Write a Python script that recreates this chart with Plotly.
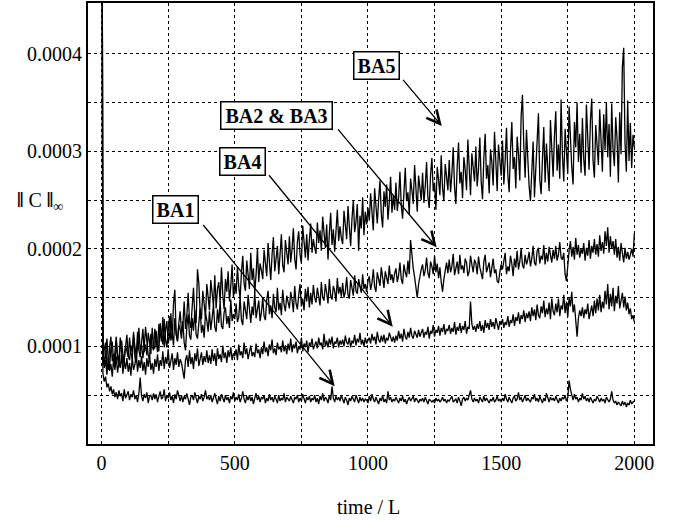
import plotly.graph_objects as go

# time axis (units of L), sampled every 5
time = list(range(0, 2001, 5))

# values in units of 1e-5 ; first value (t=0) is the off-scale start
ba1_e5 = [90,
 7.2, 6.4, 6.9, 5.8, 6.2, 5.4, 5.9, 5.1, 5.6, 4.8, 5.3, 4.6, 5.5, 4.9, 5.2, 4.4, 5.6, 4.7, 5.0, 5.4,
 4.5, 5.1, 4.8, 5.5, 4.6, 5.0, 4.3, 5.2, 6.8, 4.9, 4.4, 5.1, 4.7, 5.3, 4.2, 4.9, 5.0, 4.5, 5.2, 4.6,
 5.1, 4.3, 4.9, 5.4, 4.6, 4.8, 5.6, 4.4, 5.0, 4.7, 5.3, 4.5, 4.9, 4.2, 5.1, 4.6, 5.5, 4.8, 4.4, 5.0,
 4.3, 4.9, 4.6, 5.2, 4.4, 4.0, 4.8, 5.0, 4.5, 5.3, 4.7, 4.2, 4.9, 4.6, 5.1, 4.4, 4.8, 5.5, 4.6, 4.9,
 4.5, 5.0, 4.3, 4.8, 5.2, 4.6, 4.1, 4.9, 4.4, 5.1, 4.7, 4.3, 5.0, 4.5, 4.8, 4.2, 4.9, 4.6, 5.3, 4.4,
 4.8, 4.5, 5.1, 4.3, 4.7, 5.4, 4.6, 4.2, 4.9, 4.5, 5.0, 4.4, 4.8, 4.1, 4.7, 5.2, 4.5, 4.9, 4.3, 4.8,
 4.6, 5.0, 4.2, 4.7, 4.4, 5.1, 4.5, 4.8, 4.3, 4.9, 4.6, 4.2, 5.0, 4.4, 4.7, 4.5, 5.2, 4.3, 4.8, 4.6,
 4.4, 4.9, 4.5, 4.2, 4.8, 4.6, 5.0, 4.3, 4.7, 4.4, 5.1, 4.6, 4.2, 4.8, 4.5, 4.9, 4.3, 4.7, 4.5, 5.0,
 4.3, 4.7, 4.1, 4.9, 4.5, 5.2, 4.4, 4.8, 4.6, 4.2, 5.0, 4.5, 5.9, 4.7, 4.3, 4.9, 4.5, 4.8, 4.4, 5.0,
 4.6, 4.2, 4.8, 4.5, 4.0, 4.7, 4.4, 4.9, 4.6, 4.3, 5.0, 4.5, 4.2, 4.8, 4.4, 4.7, 4.3, 4.6, 4.5, 4.2,
 4.9, 4.4, 5.1, 4.6, 4.3, 4.8, 4.5, 4.1, 4.7, 4.4, 5.0, 4.3, 4.6, 4.2, 5.4, 4.5, 4.8, 4.3, 4.6, 4.4,
 4.8, 4.5, 4.2, 4.7, 4.4, 4.9, 4.3, 4.6, 4.1, 4.5, 4.8, 4.4, 4.6, 4.9, 4.3, 4.7, 4.5, 4.2, 4.6, 4.4,
 4.7, 4.3, 4.8, 4.5, 4.1, 4.6, 4.4, 4.3, 4.5, 4.2, 4.7, 4.4, 4.6, 4.3, 4.5, 4.8, 4.4, 4.6, 4.2, 4.5,
 4.4, 4.7, 4.9, 4.3, 4.5, 4.6, 4.2, 4.8, 4.4, 3.9, 4.6, 4.8, 4.4, 4.7, 4.5, 4.9, 5.5, 4.6, 4.3, 4.7,
 4.4, 4.6, 4.2, 4.8, 4.5, 4.3, 4.9, 4.4, 4.7, 4.5, 4.2, 4.6, 4.4, 4.8, 4.3, 4.5, 4.9, 4.4, 4.6, 4.3,
 4.7, 4.4, 5.1, 4.6, 4.3, 4.8, 4.5, 4.2, 4.7, 4.9, 4.4, 4.6, 5.3, 4.5, 4.8, 4.3, 4.6, 5.0, 4.4, 4.7,
 4.5, 4.3, 4.8, 4.6, 5.1, 4.4, 4.7, 4.3, 4.9, 4.5, 4.2, 4.7, 4.4, 5.2, 4.6, 4.3, 4.8, 4.5, 4.7, 4.4,
 4.9, 4.5, 4.2, 4.7, 4.4, 4.8, 4.6, 5.0, 4.4, 4.7, 6.5, 5.6, 4.9, 4.5, 5.1, 4.6, 4.8, 4.3, 4.7, 4.5,
 5.2, 4.6, 4.9, 4.4, 4.7, 4.3, 4.8, 4.5, 4.2, 4.6, 4.4, 4.9, 4.5, 4.3, 4.7, 4.4, 4.6, 4.2, 4.8, 4.5,
 4.3, 4.6, 5.4, 4.5, 4.2, 4.4, 4.0, 4.3, 4.1, 3.9, 4.4, 4.0, 4.3, 3.8, 4.2, 4.0, 4.5, 4.1, 4.3, 4.4]

ba4_e5 = [90,
 9.4, 7.8, 8.6, 7.1, 8.9, 7.5, 8.2, 6.9, 8.7, 7.6, 9.0, 7.3, 8.4, 7.8, 9.2, 7.2, 8.5, 7.7, 8.8, 7.4,
 8.3, 7.0, 8.9, 7.6, 8.1, 9.3, 7.4, 8.6, 7.8, 9.0, 7.5, 8.4, 7.1, 8.8, 7.9, 9.1, 7.6, 8.3, 7.2, 8.7,
 7.9, 9.2, 7.5, 8.6, 8.0, 9.5, 7.7, 8.9, 8.2, 9.7, 7.8, 8.5, 9.3, 7.6, 8.8, 8.1, 9.4, 7.9, 8.7, 8.3,
 7.2, 6.7, 8.6, 9.1, 7.9, 9.6, 8.2, 8.9, 7.7, 9.3, 8.5, 9.8, 8.0, 8.7, 9.4, 8.1, 9.0, 8.4, 9.6, 8.3,
 9.1, 8.2, 9.7, 8.5, 9.3, 8.0, 9.8, 8.7, 9.2, 8.4, 10.1, 8.8, 9.4, 8.3, 9.6, 8.9, 9.9, 8.6, 9.3, 9.0,
 9.7, 8.6, 10.2, 9.1, 9.5, 8.8, 10.4, 9.2, 9.8, 8.7, 9.6, 10.1, 9.0, 9.4, 8.9, 10.3, 9.3, 9.7, 8.8, 9.9,
 9.2, 10.5, 9.4, 9.9, 9.0, 10.2, 9.6, 10.7, 9.3, 9.8, 9.1, 10.4, 9.7, 10.0, 9.4, 10.6, 9.5, 10.1, 9.2, 10.3,
 9.6, 10.8, 9.4, 10.2, 9.8, 10.5, 9.3, 10.0, 9.7, 10.9, 9.5, 10.3, 9.9, 10.6, 9.4, 10.4, 10.0, 10.8, 9.7, 10.2,
 10.5, 9.8, 10.9, 10.1, 10.4, 9.7, 11.3, 10.0, 10.6, 9.9, 10.8, 10.2, 11.0, 9.8, 10.5, 10.3, 10.9, 9.9, 10.6, 10.2,
 10.7, 10.0, 11.1, 10.4, 10.2, 10.9, 9.9, 10.6, 10.3, 11.2, 10.1, 10.8, 10.4, 11.4, 10.2, 10.7, 10.0, 10.9, 10.3, 10.6,
 10.9, 10.3, 11.3, 10.6, 11.0, 10.2, 11.5, 10.7, 10.4, 11.1, 10.5, 11.2, 10.3, 10.9, 10.6, 11.4, 10.8, 10.5, 11.0, 10.4,
 11.1, 10.6, 11.6, 10.8, 11.3, 10.5, 11.8, 11.0, 10.7, 11.5, 10.9, 11.9, 11.1, 10.8, 11.6, 11.2, 10.9, 11.7, 11.0, 11.4,
 11.8, 10.9, 11.5, 11.2, 12.0, 10.8, 11.6, 11.3, 12.2, 11.0, 11.7, 11.4, 12.1, 11.1, 11.9, 11.5, 12.3, 11.2, 11.8, 11.6,
 12.2, 11.3, 11.9, 11.5, 12.5, 11.2, 12.0, 11.6, 12.4, 11.4, 12.1, 11.7, 12.6, 11.3, 12.0, 11.8, 14.6, 12.3, 11.7, 12.1,
 11.5, 12.3, 11.8, 12.6, 11.6, 12.2, 11.4, 12.7, 11.9, 12.4, 11.7, 12.8, 12.0, 12.5, 11.8, 12.9, 12.1, 11.7, 12.6, 12.2,
 12.8, 11.9, 12.5, 12.2, 13.1, 12.0, 12.7, 12.4, 13.3, 12.1, 13.0, 12.6, 13.5, 12.3, 13.2, 12.8, 13.7, 12.5, 13.4, 12.9,
 13.6, 12.6, 14.0, 13.1, 13.8, 12.7, 14.3, 13.2, 12.9, 14.1, 13.4, 14.7, 13.0, 13.9, 13.3, 14.5, 12.8, 14.9, 13.6, 13.2,
 14.4, 13.5, 14.9, 13.1, 14.2, 13.8, 15.3, 13.4, 14.6, 13.0, 15.0, 14.1, 15.6, 13.5, 14.3, 12.4, 11.0, 12.9, 13.7, 13.1,
 14.0, 12.9, 13.8, 13.3, 14.4, 12.8, 13.6, 14.2, 13.1, 14.7, 13.4, 14.9, 13.7, 15.3, 13.5, 14.6, 13.9, 15.7, 14.3, 16.4,
 13.8, 15.4, 14.1, 16.0, 13.6, 15.2, 14.4, 16.2, 13.9, 14.8, 15.5, 14.0, 15.1, 13.7, 14.5, 13.3, 13.9, 12.8, 13.2, 12.5]

ba23_e5 = [90,
 10.3, 8.2, 9.0, 10.8, 8.6, 7.9, 9.8, 10.5, 8.4, 9.4, 11.0, 8.8, 8.1, 9.9, 10.6, 9.2, 8.5, 10.1, 9.6, 8.9,
 10.9, 9.3, 8.7, 11.2, 10.0, 9.0, 11.5, 9.6, 8.9, 10.7, 11.8, 9.4, 10.2, 9.1, 11.4, 10.5, 9.2, 11.9, 10.1, 9.8,
 11.6, 10.3, 9.5, 12.4, 11.0, 10.2, 12.8, 10.7, 9.9, 11.9, 13.1, 10.6, 11.4, 10.1, 12.9, 11.3, 10.5, 12.2, 11.7, 10.8,
 12.6, 10.4, 9.6, 12.0, 13.3, 11.1, 10.7, 12.9, 11.6, 13.7, 11.2, 10.8, 12.5, 13.9, 11.4, 12.2, 10.9, 13.4, 12.7, 11.5,
 13.6, 11.7, 12.9, 14.3, 12.0, 11.5, 13.8, 12.4, 14.6, 12.1, 11.8, 13.5, 14.0, 12.3, 13.1, 11.9, 14.8, 12.6, 13.3, 12.8,
 14.4, 12.5, 13.0, 15.1, 12.7, 12.2, 14.6, 13.4, 12.8, 15.3, 13.6, 12.4, 14.1, 13.2, 15.6, 12.9, 13.8, 14.7, 12.6, 13.5,
 15.0, 13.1, 12.7, 14.8, 15.7, 13.3, 14.2, 12.9, 15.4, 14.0, 13.5, 16.0, 13.7, 14.5, 13.2, 15.8, 14.3, 13.6, 15.2, 14.6,
 13.9, 15.6, 14.8, 13.5, 16.2, 14.4, 13.8, 15.3, 16.4, 14.1, 14.9, 13.7, 15.9, 14.6, 16.1, 14.0, 15.5, 14.3, 16.3, 15.0,
 14.5, 16.0, 15.3, 14.2, 16.6, 15.0, 14.7, 16.4, 15.5, 14.4, 16.9, 15.2, 14.8, 16.2, 15.7, 14.6, 17.0, 15.4, 16.1, 15.1,
 16.5, 15.0, 15.6, 17.1, 15.3, 14.9, 16.8, 16.0, 15.2, 17.3, 15.7, 15.4, 16.9, 16.2, 15.5, 17.4, 15.9, 16.4, 15.6, 16.7,
 17.2, 15.8, 16.5, 17.9, 16.1, 15.6, 17.6, 16.9, 16.2, 18.1, 16.7, 16.0, 17.7, 17.0, 16.4, 18.3, 16.8, 17.4, 16.5, 17.5,
 18.0, 16.6, 17.3, 18.6, 16.9, 16.4, 18.4, 17.6, 17.1, 18.8, 17.4, 20.9, 19.2, 18.0, 17.1, 16.0, 15.0, 16.4, 17.3, 17.9,
 18.4, 17.2, 17.8, 19.1, 17.5, 17.0, 18.7, 18.2, 17.4, 19.3, 17.6, 18.5, 17.0, 18.1, 16.6, 15.6, 16.9, 17.8, 18.6, 17.5,
 18.9, 17.6, 18.2, 19.5, 17.3, 18.0, 18.7, 17.4, 19.4, 17.9, 18.3, 17.5, 19.0, 18.6, 17.2, 17.7, 19.3, 18.4, 17.6, 18.9,
 18.5, 17.4, 19.2, 18.1, 17.3, 16.9, 18.7, 19.4, 17.6, 18.0, 18.6, 17.1, 18.2, 19.0, 17.5, 17.9, 16.7, 16.5, 17.6, 18.4,
 17.9, 18.8, 19.6, 17.4, 18.2, 17.7, 19.3, 18.5, 17.2, 19.0, 18.1, 19.8, 17.9, 18.7, 20.0, 18.3, 18.0, 19.4, 18.4, 18.9,
 19.7, 18.2, 19.0, 20.3, 18.6, 18.3, 19.8, 20.1, 18.5, 19.3, 18.9, 20.4, 18.4, 19.6, 18.7, 20.2, 19.1, 18.6, 19.9, 19.0,
 20.3, 18.8, 19.4, 20.7, 19.1, 18.9, 19.6, 17.4, 16.7, 18.5, 19.8, 20.8, 19.2, 20.2, 18.9, 21.1, 19.4, 20.4, 19.1, 20.0,
 19.5, 20.6, 18.8, 20.1, 19.3, 20.9, 19.0, 20.3, 19.6, 21.0, 19.4, 20.5, 19.2, 21.4, 19.8, 20.7, 19.5, 21.8, 20.3, 22.2,
 19.6, 21.3, 20.0, 20.8, 19.4, 21.0, 19.1, 20.2, 18.8, 20.6, 19.3, 18.6, 20.1, 19.0, 19.7, 18.9, 19.4, 20.0, 19.2, 21.6]

ba5_e5 = [90,
 8.1, 9.7, 10.4, 8.0, 7.6, 9.9, 11.0, 8.5, 9.2, 7.8, 10.6, 9.1, 8.4, 10.9, 9.6, 8.2, 8.8, 10.3, 11.2, 9.0,
 8.6, 10.1, 9.4, 11.5, 8.9, 8.3, 10.8, 11.9, 9.5, 10.2, 8.8, 9.9, 12.0, 10.4, 9.1, 8.7, 11.3, 10.0, 9.6, 11.8,
 10.2, 9.4, 12.3, 11.1, 10.5, 13.0, 9.9, 11.7, 12.6, 10.3, 11.0, 13.4, 10.8, 14.4, 15.8, 11.2, 10.6, 12.4, 13.6, 11.5,
 12.1, 14.6, 11.8, 13.2, 15.5, 12.6, 11.9, 14.0, 16.0, 13.1, 12.4, 17.9, 16.5, 13.6, 12.8, 15.7, 14.2, 13.0, 16.4, 14.8,
 13.7, 16.8, 15.1, 14.2, 17.3, 13.9, 15.9, 16.6, 14.5, 18.1, 15.3, 13.8, 16.9, 15.6, 17.7, 14.6, 16.2, 18.4, 15.0, 16.5,
 15.4, 18.2, 16.1, 14.9, 17.6, 19.3, 16.4, 15.7, 18.8, 17.1, 15.9, 19.6, 16.8, 18.0, 15.5, 17.4, 20.0, 16.6, 18.5, 17.8,
 16.9, 19.9, 18.1, 17.2, 20.6, 18.7, 16.8, 19.4, 21.2, 17.7, 18.9, 20.3, 17.4, 19.1, 21.5, 18.3, 17.6, 20.9, 19.6, 18.4,
 21.3, 18.6, 20.0, 22.1, 19.0, 17.9, 20.7, 21.8, 19.4, 18.5, 22.4, 20.2, 19.1, 21.5, 18.8, 20.9, 22.6, 19.6, 21.0, 20.1,
 19.5, 22.7, 20.6, 21.9, 19.8, 23.3, 21.2, 20.1, 22.5, 18.9, 21.6, 23.7, 20.4, 22.0, 19.7, 21.4, 24.0, 20.8, 22.3, 21.1,
 20.5, 23.9, 22.2, 21.0, 24.4, 22.6, 20.3, 23.1, 25.0, 21.7, 22.8, 24.6, 19.8, 23.4, 22.1, 25.3, 21.4, 23.8, 22.5, 24.2,
 22.9, 25.7, 23.3, 21.9, 26.2, 24.5, 22.6, 25.1, 27.0, 23.6, 22.2, 25.9, 24.3, 26.6, 23.0, 24.8, 27.4, 23.7, 25.5, 24.0,
 26.8, 23.9, 25.2, 27.9, 24.4, 23.1, 26.5, 28.3, 24.9, 25.8, 23.5, 27.2, 26.0, 24.6, 28.6, 25.4, 23.8, 27.5, 26.3, 25.0,
 27.8, 24.7, 26.4, 28.9, 25.3, 24.2, 27.6, 29.3, 25.9, 26.8, 24.0, 28.4, 27.1, 25.5, 29.6, 26.2, 24.9, 28.7, 27.4, 26.0,
 29.1, 25.8, 27.7, 30.4, 26.3, 24.6, 28.5, 30.9, 26.7, 27.9, 25.2, 29.4, 28.1, 26.0, 31.2, 27.3, 25.5, 29.8, 28.3, 26.9,
 30.5, 26.4, 28.2, 31.4, 26.9, 25.1, 29.3, 31.8, 27.2, 28.6, 25.7, 30.2, 28.9, 26.5, 32.0, 27.8, 25.9, 30.7, 29.1, 27.5,
 31.1, 26.6, 29.0, 32.4, 27.6, 25.8, 30.1, 33.0, 28.2, 29.4, 26.2, 31.5, 29.7, 27.0, 33.6, 35.8, 30.6, 27.3, 32.2, 28.8,
 26.4, 24.9, 28.7, 31.0, 25.3, 27.9, 30.3, 33.9, 27.1, 25.6, 29.2, 32.5, 26.8, 30.8, 28.3, 25.9, 33.2, 29.5, 27.4, 31.6,
 34.1, 28.0, 30.7, 27.2, 35.3, 29.6, 26.9, 32.3, 30.0, 27.7, 34.6, 31.1, 28.4, 26.6, 33.0, 30.4, 35.0, 28.9, 31.8, 27.8,
 33.4, 29.2, 27.5, 34.8, 30.6, 28.1, 33.1, 35.4, 29.0, 27.3, 32.7, 30.9, 28.6, 34.3, 31.5, 27.9, 33.8, 30.1, 35.0, 29.4,
 32.8, 27.4, 34.9, 30.2, 28.5, 33.5, 31.3, 26.8, 34.0, 29.7, 38.6, 40.6, 30.8, 27.9, 35.2, 29.0, 32.9, 28.3, 31.7, 30.4]

series_names = ["BA1", "BA4", "BA2 & BA3", "BA5"]
series_e5 = [ba1_e5, ba4_e5, ba23_e5, ba5_e5]

x_tickvals = [0, 250, 500, 750, 1000, 1250, 1500, 1750, 2000]
x_ticktext = ["0", "", "500", "", "1000", "", "1500", "", "2000"]
y_tickvals = [0.00005, 0.0001, 0.00015, 0.0002, 0.00025, 0.0003, 0.00035, 0.0004]
y_ticktext = ["", "0.0001", "", "0.0002", "", "0.0003", "", "0.0004"]

# label boxes (center, data coords), arrow tail and arrow head (data coords)
labels = ["BA1", "BA4", "BA2 & BA3", "BA5"]
label_x = [279, 530, 658, 1033]
label_y = [0.0002404, 0.0002892, 0.0003371, 0.000388]
label_w = [40, 40, 106, 40]
tail_x = [377, 624, 883, 1127]
tail_y = [0.000226, 0.000277, 0.000324, 0.0003747]
head_x = [875, 1093, 1258, 1277]
head_y = [0.0000592, 0.0001203, 0.0002017, 0.000326]

SERIF = "Liberation Serif, Times New Roman, serif"

fig = go.Figure()
for name, vals in zip(series_names, series_e5):
    n = min(len(time), len(vals))
    fig.add_trace(go.Scatter(
        x=time[:n], y=[v * 1e-5 for v in vals[:n]], mode="lines", name=name,
        line=dict(color="black", width=1.3), showlegend=False))

annotations = []
for i in range(len(labels)):
    annotations.append(dict(
        x=head_x[i], y=head_y[i], xref="x", yref="y",
        ax=tail_x[i], ay=tail_y[i], axref="x", ayref="y",
        text="", showarrow=True, arrowhead=5, arrowsize=2.0,
        arrowwidth=1.3, arrowcolor="black"))
for i in range(len(labels)):
    annotations.append(dict(
        x=label_x[i], y=label_y[i], xref="x", yref="y",
        text="<b>" + labels[i] + "</b>", showarrow=False,
        font=dict(family=SERIF, size=20, color="black"),
        bgcolor="white", bordercolor="black", borderwidth=1.5,
        borderpad=2, width=label_w[i], height=22))

annotations.append(dict(
    x=-0.085, y=0.551, xref="paper", yref="paper",
    text="<b>\u2016</b> C <b>\u2016</b><sub>\u221e</sub>", showarrow=False,
    font=dict(family=SERIF, size=20, color="black"),
    xanchor="center", yanchor="middle"))
annotations.append(dict(
    x=0.497, y=-0.142, xref="paper", yref="paper",
    text="time / L", showarrow=False,
    font=dict(family=SERIF, size=20, color="black"),
    xanchor="center", yanchor="middle"))

fig.update_layout(
    width=678, height=521,
    margin=dict(l=88, r=25, t=1, b=77),
    paper_bgcolor="white", plot_bgcolor="white",
    font=dict(family=SERIF, size=20, color="black"),
    annotations=annotations,
    xaxis=dict(range=[-51, 2070], tickvals=x_tickvals, ticktext=x_ticktext,
               showgrid=True, gridcolor="black", griddash="dot", gridwidth=1.3,
               showline=True, linecolor="black", linewidth=2, mirror=True,
               zeroline=False, ticks="", tickfont=dict(family=SERIF, size=20)),
    yaxis=dict(range=[0, 0.000452], tickvals=y_tickvals, ticktext=y_ticktext,
               showgrid=True, gridcolor="black", griddash="dot", gridwidth=1.3,
               showline=True, linecolor="black", linewidth=2, mirror=True,
               zeroline=False, ticks="", tickfont=dict(family=SERIF, size=20)),
)

fig.write_html("out.html")
